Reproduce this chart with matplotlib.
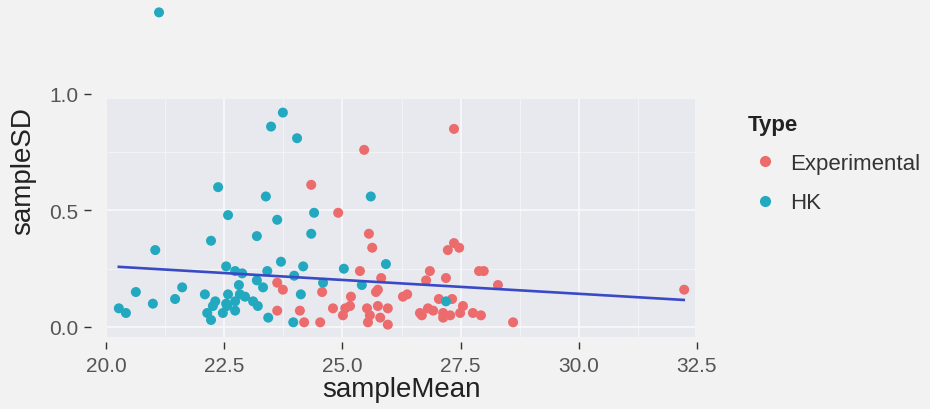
import matplotlib
matplotlib.use("Agg")
import matplotlib.pyplot as plt
from matplotlib.patches import Rectangle
from matplotlib.lines import Line2D

plt.rcParams['font.family'] = ['Liberation Sans', 'DejaVu Sans']

# valeurs
hk_mean = [21.12, 23.74, 23.49, 24.04, 22.37, 23.38, 25.60, 22.58, 23.62, 24.40,
           22.22, 23.19, 24.34, 21.04, 23.70, 22.54, 22.73, 22.88, 23.41, 24.17,
           25.03, 25.92, 23.98, 23.19, 23.32, 24.59, 25.41, 22.81, 24.12, 20.63,
           21.61, 21.46, 20.99, 22.09, 20.27, 20.42, 22.31, 22.26, 22.54, 22.14,
           22.22, 22.47, 22.58, 22.83, 22.94, 22.73, 22.56, 23.11, 23.21, 22.73,
           23.43, 23.96, 27.19]
hk_sd = [1.35, 0.92, 0.86, 0.81, 0.60, 0.56, 0.56, 0.48, 0.46, 0.49,
         0.37, 0.39, 0.40, 0.33, 0.28, 0.26, 0.24, 0.23, 0.24, 0.26,
         0.25, 0.27, 0.22, 0.20, 0.17, 0.19, 0.18, 0.18, 0.14, 0.15,
         0.17, 0.12, 0.10, 0.14, 0.08, 0.06, 0.11, 0.09, 0.10, 0.06,
         0.03, 0.06, 0.14, 0.14, 0.13, 0.11, 0.09, 0.11, 0.09, 0.07,
         0.04, 0.02, 0.11]

exp_mean = [24.34, 24.91, 25.46, 27.36, 25.56, 25.63, 25.37, 25.82, 23.62, 23.74,
            24.57, 25.75, 25.71, 25.18, 26.28, 26.37, 23.62, 24.10, 24.80, 25.06,
            25.16, 25.01, 25.52, 25.75, 25.96, 25.58, 25.54, 25.80, 25.96, 24.19,
            24.53, 27.36, 27.47, 27.23, 26.85, 27.19, 26.77, 27.89, 27.99, 28.29,
            27.04, 27.32, 26.64, 26.81, 26.92, 26.68, 27.13, 27.28, 27.55, 27.49,
            27.76, 27.93, 27.13, 28.61, 32.23]
exp_sd = [0.61, 0.49, 0.76, 0.85, 0.40, 0.34, 0.24, 0.21, 0.19, 0.16,
          0.15, 0.16, 0.15, 0.13, 0.13, 0.14, 0.07, 0.07, 0.08, 0.08,
          0.09, 0.05, 0.08, 0.09, 0.08, 0.05, 0.02, 0.04, 0.01, 0.02,
          0.02, 0.36, 0.34, 0.33, 0.24, 0.21, 0.20, 0.24, 0.24, 0.18,
          0.12, 0.12, 0.06, 0.08, 0.07, 0.05, 0.06, 0.05, 0.09, 0.06,
          0.06, 0.05, 0.04, 0.02, 0.16]

# droite de régression (lm) lue aux extrémités
fit_mean = [20.27, 32.22]
fit_sd = [0.258, 0.116]

x_ticks = [20.0, 22.5, 25.0, 27.5, 30.0, 32.5]
y_ticks = [0.0, 0.5, 1.0]

bg = '#f2f2f2'
panel = '#e8e9ee'
red = '#ec6b6d'
teal = '#22a9bf'

fig = plt.figure(figsize=(9.3, 4.1), dpi=100, facecolor=bg)
ax = fig.add_axes([0.0978, 0.1637, 0.6567, 0.6161])
ax.set_facecolor('none')
ax.set_xlim(19.68, 32.6)
ax.set_ylim(-0.064, 1.02)
for s in ax.spines.values():
    s.set_visible(False)

# panneau gris + grille
px0, px1, py0, py1 = 20.02, 32.45, -0.043, 0.979
ax.add_patch(Rectangle((px0, py0), px1 - px0, py1 - py0, facecolor=panel,
                       edgecolor='none', zorder=0))
ax.vlines([21.25, 23.75, 26.25, 28.75, 31.25], py0, py1, color='#f4f4f7', lw=0.7, zorder=1)
ax.hlines([0.25, 0.75], px0, px1, color='#f4f4f7', lw=0.7, zorder=1)
ax.vlines([22.5, 25.0, 27.5, 30.0], py0, py1, color='#f8f8fa', lw=1.3, zorder=1)
ax.hlines([0.0, 0.5], px0, px1, color='#f8f8fa', lw=1.3, zorder=1)

ax.scatter(exp_mean, exp_sd, s=52, color=red, edgecolors='none', zorder=3, clip_on=False)
ax.scatter(hk_mean, hk_sd, s=52, color=teal, edgecolors='none', zorder=3, clip_on=False)
ax.plot(fit_mean, fit_sd, color='#3a4ac6', lw=1.9, zorder=4)

ax.set_xticks(x_ticks)
ax.set_xticklabels([f'{v:.1f}' for v in x_ticks])
ax.set_yticks(y_ticks)
ax.set_yticklabels([f'{v:.1f}' for v in y_ticks])
ax.tick_params(axis='both', colors='#333333', labelcolor='#555555', labelsize=15,
               length=5, width=1)
ax.tick_params(axis='x', pad=5)
ax.tick_params(axis='y', pad=4)

fig.text(401 / 930, 1 - 390 / 410, 'sampleMean', fontsize=20, color='#222222',
         ha='center', va='center')
fig.text(23 / 930, 1 - 171 / 410, 'sampleSD', fontsize=20, color='#222222',
         ha='center', va='center', rotation=90)

handles = [Line2D([], [], marker='o', linestyle='', color=red, markersize=7),
           Line2D([], [], marker='o', linestyle='', color=teal, markersize=7)]
leg = fig.legend(handles, ['Experimental', 'HK'], title='Type',
                 loc='upper left', bbox_to_anchor=(748 / 930, 1 - 115 / 410),
                 frameon=False, fontsize=16, title_fontsize=16, alignment='left',
                 handlelength=1.5, handletextpad=0.4, labelspacing=0.82,
                 borderpad=0, borderaxespad=0)
leg.get_title().set_fontweight('bold')
leg.get_title().set_color('#222222')
for t in leg.get_texts():
    t.set_color('#333333')

fig.savefig('out.png', dpi=100, facecolor=bg)
